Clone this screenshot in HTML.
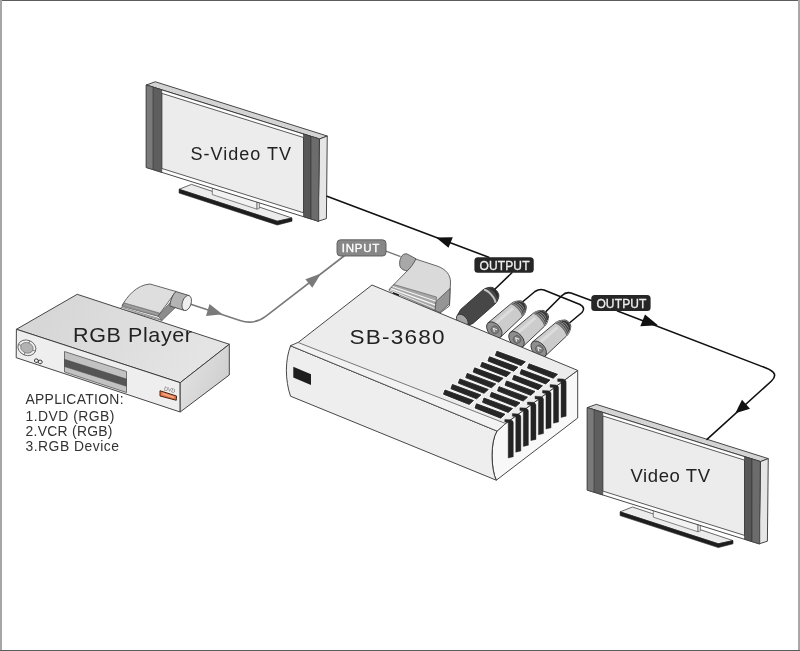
<!DOCTYPE html>
<html><head><meta charset="utf-8">
<style>
html,body{margin:0;padding:0;background:#fff;}
svg{display:block;font-family:"Liberation Sans", sans-serif;will-change:transform;}
</style></head>
<body>
<svg width="800" height="651" viewBox="0 0 800 651">
<rect x="0" y="0" width="800" height="651" fill="#fff"/>
<g>
<polygon points="179.10,189.25 191.50,184.40 292.00,218.00 277.30,221.20" fill="#ececec" stroke="#444" stroke-width="0.8"/>
<polygon points="179.10,189.25 277.30,221.20 292.00,218.00 292.00,221.20 277.30,225.00 179.10,193.00" fill="#1e1e1e" stroke="#1e1e1e" stroke-width="0.6"/>
<polygon points="212.30,186.00 212.30,194.60 257.00,209.20 257.00,200.00" fill="#f2f2f2" stroke="#555" stroke-width="0.7"/>
<polygon points="257.00,202.30 259.50,201.30 259.50,208.30 257.00,209.20" fill="#dcdcdc" stroke="#555" stroke-width="0.6"/>
<polygon points="146.25,85.00 155.25,81.75 327.25,136.00 319.50,139.00" fill="#d4d4d4" stroke="#333" stroke-width="0.9" stroke-linejoin="round"/>
<polygon points="319.50,139.00 327.25,136.00 326.40,218.60 318.10,221.25" fill="#e6e6e6" stroke="#333" stroke-width="0.9"/>
<polygon points="146.25,85.00 319.50,139.00 318.10,221.25 146.25,167.50" fill="#ffffff" stroke="#333" stroke-width="0.9"/>
<polygon points="161.75,93.33 303.50,137.51 303.50,212.78 161.75,168.45" fill="#ececec" stroke="#333" stroke-width="0.8"/>
<polygon points="146.25,85.00 153.25,87.18 153.25,169.69 146.25,167.50" fill="#7a7a7a" stroke="#333" stroke-width="0.6"/>
<polygon points="153.25,87.18 161.75,89.83 161.75,172.35 153.25,169.69" fill="#5e5e5e" stroke="#333" stroke-width="0.6"/>
<polygon points="303.50,134.01 311.00,136.35 311.00,219.03 303.50,216.68" fill="#575757" stroke="#333" stroke-width="0.6"/>
<polygon points="311.00,136.35 318.80,138.78 318.80,221.47 311.00,219.03" fill="#6c6c6c" stroke="#333" stroke-width="0.6"/>
</g>
<g transform="translate(441,322.6)">
<polygon points="179.10,189.25 191.50,184.40 292.00,218.00 277.30,221.20" fill="#ececec" stroke="#444" stroke-width="0.8"/>
<polygon points="179.10,189.25 277.30,221.20 292.00,218.00 292.00,221.20 277.30,225.00 179.10,193.00" fill="#1e1e1e" stroke="#1e1e1e" stroke-width="0.6"/>
<polygon points="212.30,186.00 212.30,194.60 257.00,209.20 257.00,200.00" fill="#f2f2f2" stroke="#555" stroke-width="0.7"/>
<polygon points="257.00,202.30 259.50,201.30 259.50,208.30 257.00,209.20" fill="#dcdcdc" stroke="#555" stroke-width="0.6"/>
<polygon points="146.25,85.00 155.25,81.75 327.25,136.00 319.50,139.00" fill="#d4d4d4" stroke="#333" stroke-width="0.9" stroke-linejoin="round"/>
<polygon points="319.50,139.00 327.25,136.00 326.40,218.60 318.10,221.25" fill="#e6e6e6" stroke="#333" stroke-width="0.9"/>
<polygon points="146.25,85.00 319.50,139.00 318.10,221.25 146.25,167.50" fill="#ffffff" stroke="#333" stroke-width="0.9"/>
<polygon points="161.75,93.33 303.50,137.51 303.50,212.78 161.75,168.45" fill="#ececec" stroke="#333" stroke-width="0.8"/>
<polygon points="146.25,85.00 153.25,87.18 153.25,169.69 146.25,167.50" fill="#7a7a7a" stroke="#333" stroke-width="0.6"/>
<polygon points="153.25,87.18 161.75,89.83 161.75,172.35 153.25,169.69" fill="#5e5e5e" stroke="#333" stroke-width="0.6"/>
<polygon points="303.50,134.01 311.00,136.35 311.00,219.03 303.50,216.68" fill="#575757" stroke="#333" stroke-width="0.6"/>
<polygon points="311.00,136.35 318.80,138.78 318.80,221.47 311.00,219.03" fill="#6c6c6c" stroke="#333" stroke-width="0.6"/>
</g>

<g fill="none" stroke-linecap="round" stroke-linejoin="round">
<path d="M327,196.25 L488.75,257.25" stroke="#111" stroke-width="1.6"/>
<path d="M511.9,272.75 L494.5,289.5" stroke="#111" stroke-width="1.6"/>
<path d="M187,303 L240,320.5 Q254.3,325.2 266,316.1 L344,256" stroke="#7a7a7a" stroke-width="1.6"/>
<path d="M386,251.2 L400,256.4" stroke="#7a7a7a" stroke-width="1.4"/>
<path d="M523,301.5 L535,291.5 Q539.5,288.5 544,290 L580,304.5 Q586,308 582,312.5 L570,322.5" stroke="#111" stroke-width="1.6"/>
<path d="M546,311.5 L562,295.5 Q566,291.5 571,293 L591.25,300.5" stroke="#111" stroke-width="1.6"/>
<path d="M617.5,311 L766,368 Q779.8,373.3 771.5,381 L707,439.4" stroke="#111" stroke-width="1.6"/>
</g>
<polygon points="436,237.5 452.8,237.2 448.5,247.8" fill="#111"/>
<polygon points="658,325.3 645,314.6 640.3,326.3" fill="#111"/>
<polygon points="735.3,413.3 742,399.8 750,408.8" fill="#111"/>
<polygon points="222.5,314.2 209.5,304 206,316" fill="#7a7a7a"/>
<polygon points="321,273.6 305.4,279.2 312.3,287.8" fill="#7a7a7a"/>

<defs><linearGradient id="ptop" gradientUnits="userSpaceOnUse" x1="60" y1="300" x2="180" y2="385"><stop offset="0" stop-color="#d7d7d7"/><stop offset="1" stop-color="#e4e4e4"/></linearGradient><linearGradient id="pside" gradientUnits="userSpaceOnUse" x1="185" y1="370" x2="229" y2="390"><stop offset="0" stop-color="#e0e0e0"/><stop offset="1" stop-color="#cdcdcd"/></linearGradient></defs>
<polygon points="77.20,294.30 16.40,329.30 180.20,382.70 229.30,344.25" fill="url(#ptop)" stroke="#333" stroke-width="0.9" stroke-linejoin="round"/>
<polygon points="16.40,329.30 180.20,382.70 180.20,412.00 16.20,357.70" fill="#eeeeee" stroke="#333" stroke-width="0.9"/>
<polygon points="180.20,382.70 229.30,344.25 229.30,375.00 180.20,412.00" fill="url(#pside)" stroke="#333" stroke-width="0.9"/>
<g transform="translate(26.9,347.8) rotate(22)">
<ellipse cx="0" cy="0" rx="9.2" ry="7.6" fill="#f2f2f2" stroke="#555" stroke-width="0.8"/>
<ellipse cx="0" cy="0" rx="6.4" ry="5.2" fill="#b2b2b2" stroke="#666" stroke-width="0.6"/>
<path d="M0,-7.6 L0,-5.2 M0,7.6 L0,5.2 M-9.2,0 L-6.4,0 M9.2,0 L6.4,0" stroke="#555" stroke-width="0.7"/>
</g>
<g transform="translate(38.3,361.3) rotate(18)" fill="none" stroke="#333" stroke-width="0.9"><ellipse cx="-2" cy="0" rx="2" ry="1.8"/><ellipse cx="2" cy="0" rx="2" ry="1.8"/></g>
<polygon points="64.50,351.50 126.50,371.50 126.50,392.50 64.50,372.00" fill="#c2c2c2" stroke="#555" stroke-width="0.8"/>
<polygon points="64.50,359.30 126.50,379.00 126.50,386.30 64.50,366.60" fill="#555555" stroke="#444" stroke-width="0.5"/>
<text x="163.8" y="390.2" font-size="5.6" fill="#6a6a6a" font-family='"Liberation Sans", sans-serif' transform="rotate(14 163.8 390.2)" textLength="11.2" lengthAdjust="spacingAndGlyphs">DVD</text>
<polygon points="160.00,390.75 176.50,396.00 176.25,400.25 160.00,396.00" fill="#e4744a" stroke="#4a2410" stroke-width="1"/>
<polygon points="162.50,392.80 174.00,396.60 174.00,398.20 162.50,394.60" fill="#f4a888"/>
<path d="M122,305.5 C127,297 136,285 150,284 L176,291.5 L158,316 Z" fill="#dedede" stroke="#444" stroke-width="0.8" stroke-linejoin="round"/>
<polygon points="124.00,302.80 159.50,313.00 158.50,316.50 122.00,306.50" fill="#909090" stroke="#555" stroke-width="0.5"/>
<line x1="124.5" y1="304.6" x2="158.5" y2="314.6" stroke="#b8b8b8" stroke-width="0.5"/>
<polygon points="121.00,307.20 158.00,318.30 162.00,320.50 121.50,308.80" fill="#f6f6f6" stroke="#444" stroke-width="0.6"/>
<polygon points="158.00,316.00 171.50,301.00 176.50,306.50 162.00,320.50" fill="#8c8c8c" stroke="#444" stroke-width="0.6"/>
<g transform="translate(186.7,303) rotate(17)">
<path d="M0,-7.8 L-13.5,-7.8 C-16,-5 -16.5,4 -15,7.8 L0,7.8 Z" fill="#b4b4b4" stroke="#444" stroke-width="0.8"/>
<ellipse cx="0" cy="0" rx="4.4" ry="7.8" fill="#eeeeee" stroke="#444" stroke-width="0.8"/>
</g>
<path d="M389,289.5 L408.5,269.5 L414,258.5 L437,266 C446,269 450.5,275 450.5,282 L449.5,306 L440,313 L436,302 Z" fill="#dadada" stroke="#444" stroke-width="0.8" stroke-linejoin="round"/>
<polygon points="394.00,284.50 436.50,297.00 435.00,310.50 389.00,290.50" fill="#a6a6a6" stroke="#555" stroke-width="0.6"/>
<line x1="392.6" y1="286.6" x2="436" y2="301.3" stroke="#f2f2f2" stroke-width="1.1"/>
<line x1="390.8" y1="288.6" x2="435.6" y2="305.2" stroke="#f6f6f6" stroke-width="1.3"/>
<line x1="389.8" y1="290" x2="435.2" y2="308.6" stroke="#e8e8e8" stroke-width="1.0"/>
<polygon points="436.00,301.50 450.00,288.50 449.50,303.50 440.00,312.50 435.00,310.50" fill="#959595" stroke="#444" stroke-width="0.7"/>
<polygon points="393.00,292.20 399.00,294.40 399.00,296.20 393.00,294.00" fill="#111"/>
<path d="M401.2,257 C402.3,254.6 404.6,253.4 407,253.9 L416,258.8 C414,263 410.5,268 407.3,270.8 C404.5,270.6 401.5,269.5 400.2,267 C399.2,264.5 399.4,259.8 401.2,257 Z" fill="#a8a8a8" stroke="#444" stroke-width="0.8"/>
<g transform="translate(462.30,320.40) rotate(-41.3)">
<path d="M0,-7.2 L6,-9.3 L35,-9.3 C39.4,-9.3 42,-6.8999999999999995 43,-6.3 C46.2,-4.409999999999999 46.2,4.409999999999999 43,6.3 C42,6.8999999999999995 39.4,9.3 35,9.3 L6,9.3 L0,7.2 Z" fill="#474747" stroke="#2a2a2a" stroke-width="0.8"/>
<path d="M36.5,-8.649000000000001 C39.5,-5.115000000000001 39.5,5.115000000000001 36.5,8.649000000000001" fill="none" stroke="#c4c4c4" stroke-width="2.0"/>
<path d="M41.2,-6.3 C46.2,-4.409999999999999 46.2,4.409999999999999 41.2,6.3 C43.2,2.52 43.2,-2.52 41.2,-6.3 Z" fill="#2a2a2a"/>
<ellipse cx="0" cy="0" rx="4.61" ry="7.2" fill="#a4a4a4" stroke="#2a2a2a" stroke-width="0.8"/>
</g>
<g transform="translate(494.30,330.00) rotate(-41.6)">
<path d="M0,-9.5 L29.4,-8.6 L29.5,-8.6 C34.175,-8.6 37.0,-5.8 38.0,-5.2 C41.2,-3.6399999999999997 41.2,3.6399999999999997 38.0,5.2 C37.0,5.8 34.175,8.6 29.5,8.6 L29.4,8.6 L0,9.5 Z" fill="#cccccc" stroke="#2a2a2a" stroke-width="0.8"/>
<path d="M3,-4.275 L28.5,-3.87" stroke="#e2e2e2" stroke-width="3" fill="none" opacity="0.7"/>
<path d="M29.5,-8.6 C34.175,-8.6 37.0,-5.8 38.0,-5.2 L38.0,5.2 C37.0,5.8 34.175,8.6 29.5,8.6 C32.5,4.3 32.5,-4.3 29.5,-8.6 Z" fill="#9a9a9a"/>
<path d="M30.1,-8.36 C32.7,-4.598 32.7,4.598 30.1,8.36" fill="none" stroke="#666" stroke-width="1.0"/>
<path d="M32.1,-7.56 C34.7,-4.158 34.7,4.158 32.1,7.56" fill="none" stroke="#4a4a4a" stroke-width="1.1"/>
<path d="M34.1,-6.76 C36.7,-3.718 36.7,3.718 34.1,6.76" fill="none" stroke="#3a3a3a" stroke-width="1.2"/>
<path d="M36.1,-5.960000000000001 C38.7,-3.278000000000001 38.7,3.278000000000001 36.1,5.960000000000001" fill="none" stroke="#2e2e2e" stroke-width="1.3"/>
<path d="M36.5,-5.2 C41.2,-3.6399999999999997 41.2,3.6399999999999997 36.5,5.2 C38.5,2.08 38.5,-2.08 36.5,-5.2 Z" fill="#3a3a3a"/>
<ellipse cx="0" cy="0" rx="6.08" ry="9.5" fill="#8e8e8e" stroke="#2a2a2a" stroke-width="0.8"/>
<ellipse cx="0.5" cy="0.3" rx="3.77" ry="3.99" fill="#7e7e7e" stroke="#444" stroke-width="0.5"/>
<path d="M-1.2,1.5 L0.5,-1.8 L2.2,1.5" fill="none" stroke="#e6e6e6" stroke-width="1.1"/>
</g>
<g transform="translate(516.50,339.60) rotate(-41.6)">
<path d="M0,-9.5 L29.4,-8.6 L29.5,-8.6 C34.175,-8.6 37.0,-5.8 38.0,-5.2 C41.2,-3.6399999999999997 41.2,3.6399999999999997 38.0,5.2 C37.0,5.8 34.175,8.6 29.5,8.6 L29.4,8.6 L0,9.5 Z" fill="#cccccc" stroke="#2a2a2a" stroke-width="0.8"/>
<path d="M3,-4.275 L28.5,-3.87" stroke="#e2e2e2" stroke-width="3" fill="none" opacity="0.7"/>
<path d="M29.5,-8.6 C34.175,-8.6 37.0,-5.8 38.0,-5.2 L38.0,5.2 C37.0,5.8 34.175,8.6 29.5,8.6 C32.5,4.3 32.5,-4.3 29.5,-8.6 Z" fill="#9a9a9a"/>
<path d="M30.1,-8.36 C32.7,-4.598 32.7,4.598 30.1,8.36" fill="none" stroke="#666" stroke-width="1.0"/>
<path d="M32.1,-7.56 C34.7,-4.158 34.7,4.158 32.1,7.56" fill="none" stroke="#4a4a4a" stroke-width="1.1"/>
<path d="M34.1,-6.76 C36.7,-3.718 36.7,3.718 34.1,6.76" fill="none" stroke="#3a3a3a" stroke-width="1.2"/>
<path d="M36.1,-5.960000000000001 C38.7,-3.278000000000001 38.7,3.278000000000001 36.1,5.960000000000001" fill="none" stroke="#2e2e2e" stroke-width="1.3"/>
<path d="M36.5,-5.2 C41.2,-3.6399999999999997 41.2,3.6399999999999997 36.5,5.2 C38.5,2.08 38.5,-2.08 36.5,-5.2 Z" fill="#3a3a3a"/>
<ellipse cx="0" cy="0" rx="6.08" ry="9.5" fill="#8e8e8e" stroke="#2a2a2a" stroke-width="0.8"/>
<ellipse cx="0.5" cy="0.3" rx="3.77" ry="3.99" fill="#7e7e7e" stroke="#444" stroke-width="0.5"/>
<path d="M-1.2,1.5 L0.5,-1.8 L2.2,1.5" fill="none" stroke="#e6e6e6" stroke-width="1.1"/>
</g>
<g transform="translate(538.70,349.20) rotate(-41.6)">
<path d="M0,-9.5 L29.4,-8.6 L29.5,-8.6 C34.175,-8.6 37.0,-5.8 38.0,-5.2 C41.2,-3.6399999999999997 41.2,3.6399999999999997 38.0,5.2 C37.0,5.8 34.175,8.6 29.5,8.6 L29.4,8.6 L0,9.5 Z" fill="#cccccc" stroke="#2a2a2a" stroke-width="0.8"/>
<path d="M3,-4.275 L28.5,-3.87" stroke="#e2e2e2" stroke-width="3" fill="none" opacity="0.7"/>
<path d="M29.5,-8.6 C34.175,-8.6 37.0,-5.8 38.0,-5.2 L38.0,5.2 C37.0,5.8 34.175,8.6 29.5,8.6 C32.5,4.3 32.5,-4.3 29.5,-8.6 Z" fill="#9a9a9a"/>
<path d="M30.1,-8.36 C32.7,-4.598 32.7,4.598 30.1,8.36" fill="none" stroke="#666" stroke-width="1.0"/>
<path d="M32.1,-7.56 C34.7,-4.158 34.7,4.158 32.1,7.56" fill="none" stroke="#4a4a4a" stroke-width="1.1"/>
<path d="M34.1,-6.76 C36.7,-3.718 36.7,3.718 34.1,6.76" fill="none" stroke="#3a3a3a" stroke-width="1.2"/>
<path d="M36.1,-5.960000000000001 C38.7,-3.278000000000001 38.7,3.278000000000001 36.1,5.960000000000001" fill="none" stroke="#2e2e2e" stroke-width="1.3"/>
<path d="M36.5,-5.2 C41.2,-3.6399999999999997 41.2,3.6399999999999997 36.5,5.2 C38.5,2.08 38.5,-2.08 36.5,-5.2 Z" fill="#3a3a3a"/>
<ellipse cx="0" cy="0" rx="6.08" ry="9.5" fill="#8e8e8e" stroke="#2a2a2a" stroke-width="0.8"/>
<ellipse cx="0.5" cy="0.3" rx="3.77" ry="3.99" fill="#7e7e7e" stroke="#444" stroke-width="0.5"/>
<path d="M-1.2,1.5 L0.5,-1.8 L2.2,1.5" fill="none" stroke="#e6e6e6" stroke-width="1.1"/>
</g>
<path d="M497,431 L505.6,423.5 L577.7,370.4 L577.7,418 L496.3,480.2 C491,470 490,442 497,431 Z" fill="#f8f8f8" stroke="#333" stroke-width="0.9" stroke-linejoin="round"/>
<path d="M290.6,345.75 L497,431 C490,442 491,470 496.3,480.2 L290.5,396.2 C285,380 285,360 290.6,345.75 Z" fill="#eeeeee" stroke="#333" stroke-width="0.9" stroke-linejoin="round"/>
<polygon points="372.00,285.00 577.70,370.40 505.60,423.50 497.00,431.00 290.60,345.75 298.10,342.50" fill="#ececec" stroke="#333" stroke-width="0.9" stroke-linejoin="round"/>
<polygon points="298.10,342.50 505.60,423.50 497.00,431.00 290.60,345.75" fill="#f2f2f2" stroke="#444" stroke-width="0.7"/>
<polygon points="293.30,366.70 311.00,374.25 311.00,385.00 293.30,377.50" fill="#1e1e1e"/>
<polygon points="445.00,390.00 473.50,400.50 469.20,404.40 443.50,394.20" fill="#f8f8f8" stroke="#f8f8f8" stroke-width="2.6" stroke-linejoin="round"/>
<polygon points="445.00,390.00 473.50,400.50 469.20,404.40 443.50,394.20" fill="#262626" stroke="#262626" stroke-width="0.9" stroke-linejoin="round"/>
<polygon points="452.41,384.46 480.91,394.96 476.61,398.86 450.91,388.66" fill="#f8f8f8" stroke="#f8f8f8" stroke-width="2.6" stroke-linejoin="round"/>
<polygon points="452.41,384.46 480.91,394.96 476.61,398.86 450.91,388.66" fill="#262626" stroke="#262626" stroke-width="0.9" stroke-linejoin="round"/>
<polygon points="459.82,378.92 488.32,389.42 484.02,393.32 458.32,383.12" fill="#f8f8f8" stroke="#f8f8f8" stroke-width="2.6" stroke-linejoin="round"/>
<polygon points="459.82,378.92 488.32,389.42 484.02,393.32 458.32,383.12" fill="#262626" stroke="#262626" stroke-width="0.9" stroke-linejoin="round"/>
<polygon points="467.23,373.38 495.73,383.88 491.43,387.78 465.73,377.58" fill="#f8f8f8" stroke="#f8f8f8" stroke-width="2.6" stroke-linejoin="round"/>
<polygon points="467.23,373.38 495.73,383.88 491.43,387.78 465.73,377.58" fill="#262626" stroke="#262626" stroke-width="0.9" stroke-linejoin="round"/>
<polygon points="474.64,367.84 503.14,378.34 498.84,382.24 473.14,372.04" fill="#f8f8f8" stroke="#f8f8f8" stroke-width="2.6" stroke-linejoin="round"/>
<polygon points="474.64,367.84 503.14,378.34 498.84,382.24 473.14,372.04" fill="#262626" stroke="#262626" stroke-width="0.9" stroke-linejoin="round"/>
<polygon points="482.05,362.30 510.55,372.80 506.25,376.70 480.55,366.50" fill="#f8f8f8" stroke="#f8f8f8" stroke-width="2.6" stroke-linejoin="round"/>
<polygon points="482.05,362.30 510.55,372.80 506.25,376.70 480.55,366.50" fill="#262626" stroke="#262626" stroke-width="0.9" stroke-linejoin="round"/>
<polygon points="489.46,356.76 517.96,367.26 513.66,371.16 487.96,360.96" fill="#f8f8f8" stroke="#f8f8f8" stroke-width="2.6" stroke-linejoin="round"/>
<polygon points="489.46,356.76 517.96,367.26 513.66,371.16 487.96,360.96" fill="#262626" stroke="#262626" stroke-width="0.9" stroke-linejoin="round"/>
<polygon points="496.87,351.22 525.37,361.72 521.07,365.62 495.37,355.42" fill="#f8f8f8" stroke="#f8f8f8" stroke-width="2.6" stroke-linejoin="round"/>
<polygon points="496.87,351.22 525.37,361.72 521.07,365.62 495.37,355.42" fill="#262626" stroke="#262626" stroke-width="0.9" stroke-linejoin="round"/>
<polygon points="476.50,403.75 505.00,414.25 500.70,418.15 475.00,407.95" fill="#f8f8f8" stroke="#f8f8f8" stroke-width="2.6" stroke-linejoin="round"/>
<polygon points="476.50,403.75 505.00,414.25 500.70,418.15 475.00,407.95" fill="#262626" stroke="#262626" stroke-width="0.9" stroke-linejoin="round"/>
<polygon points="484.00,398.05 512.50,408.55 508.20,412.45 482.50,402.25" fill="#f8f8f8" stroke="#f8f8f8" stroke-width="2.6" stroke-linejoin="round"/>
<polygon points="484.00,398.05 512.50,408.55 508.20,412.45 482.50,402.25" fill="#262626" stroke="#262626" stroke-width="0.9" stroke-linejoin="round"/>
<polygon points="491.50,392.35 520.00,402.85 515.70,406.75 490.00,396.55" fill="#f8f8f8" stroke="#f8f8f8" stroke-width="2.6" stroke-linejoin="round"/>
<polygon points="491.50,392.35 520.00,402.85 515.70,406.75 490.00,396.55" fill="#262626" stroke="#262626" stroke-width="0.9" stroke-linejoin="round"/>
<polygon points="499.00,386.65 527.50,397.15 523.20,401.05 497.50,390.85" fill="#f8f8f8" stroke="#f8f8f8" stroke-width="2.6" stroke-linejoin="round"/>
<polygon points="499.00,386.65 527.50,397.15 523.20,401.05 497.50,390.85" fill="#262626" stroke="#262626" stroke-width="0.9" stroke-linejoin="round"/>
<polygon points="506.50,380.95 535.00,391.45 530.70,395.35 505.00,385.15" fill="#f8f8f8" stroke="#f8f8f8" stroke-width="2.6" stroke-linejoin="round"/>
<polygon points="506.50,380.95 535.00,391.45 530.70,395.35 505.00,385.15" fill="#262626" stroke="#262626" stroke-width="0.9" stroke-linejoin="round"/>
<polygon points="514.00,375.25 542.50,385.75 538.20,389.65 512.50,379.45" fill="#f8f8f8" stroke="#f8f8f8" stroke-width="2.6" stroke-linejoin="round"/>
<polygon points="514.00,375.25 542.50,385.75 538.20,389.65 512.50,379.45" fill="#262626" stroke="#262626" stroke-width="0.9" stroke-linejoin="round"/>
<polygon points="521.50,369.55 550.00,380.05 545.70,383.95 520.00,373.75" fill="#f8f8f8" stroke="#f8f8f8" stroke-width="2.6" stroke-linejoin="round"/>
<polygon points="521.50,369.55 550.00,380.05 545.70,383.95 520.00,373.75" fill="#262626" stroke="#262626" stroke-width="0.9" stroke-linejoin="round"/>
<polygon points="529.00,363.85 557.50,374.35 553.20,378.25 527.50,368.05" fill="#f8f8f8" stroke="#f8f8f8" stroke-width="2.6" stroke-linejoin="round"/>
<polygon points="529.00,363.85 557.50,374.35 553.20,378.25 527.50,368.05" fill="#262626" stroke="#262626" stroke-width="0.9" stroke-linejoin="round"/>
<polygon points="504.80,419.40 510.50,419.70 512.60,420.80 513.30,422.40 513.30,456.80 508.20,458.00 508.20,422.40 504.80,422.00" fill="#232323" stroke="#232323" stroke-width="0.4" stroke-linejoin="round"/>
<polygon points="512.35,413.60 518.05,413.90 520.15,415.00 520.85,416.60 520.85,451.00 515.75,452.20 515.75,416.60 512.35,416.20" fill="#232323" stroke="#232323" stroke-width="0.4" stroke-linejoin="round"/>
<polygon points="519.90,407.80 525.60,408.10 527.70,409.20 528.40,410.80 528.40,445.20 523.30,446.40 523.30,410.80 519.90,410.40" fill="#232323" stroke="#232323" stroke-width="0.4" stroke-linejoin="round"/>
<polygon points="527.45,402.00 533.15,402.30 535.25,403.40 535.95,405.00 535.95,439.40 530.85,440.60 530.85,405.00 527.45,404.60" fill="#232323" stroke="#232323" stroke-width="0.4" stroke-linejoin="round"/>
<polygon points="535.00,396.20 540.70,396.50 542.80,397.60 543.50,399.20 543.50,433.60 538.40,434.80 538.40,399.20 535.00,398.80" fill="#232323" stroke="#232323" stroke-width="0.4" stroke-linejoin="round"/>
<polygon points="542.55,390.40 548.25,390.70 550.35,391.80 551.05,393.40 551.05,427.80 545.95,429.00 545.95,393.40 542.55,393.00" fill="#232323" stroke="#232323" stroke-width="0.4" stroke-linejoin="round"/>
<polygon points="550.10,384.60 555.80,384.90 557.90,386.00 558.60,387.60 558.60,422.00 553.50,423.20 553.50,387.60 550.10,387.20" fill="#232323" stroke="#232323" stroke-width="0.4" stroke-linejoin="round"/>
<polygon points="557.65,378.80 563.35,379.10 565.45,380.20 566.15,381.80 566.15,416.20 561.05,417.40 561.05,381.80 557.65,381.40" fill="#232323" stroke="#232323" stroke-width="0.4" stroke-linejoin="round"/>

<rect x="337" y="239.8" width="49" height="16.2" rx="3.5" fill="#878787" stroke="#5a5a5a" stroke-width="0.9"/>
<text x="341.8" y="252" font-size="11.5" fill="#fff" text-anchor="start" textLength="37.5" lengthAdjust="spacing" stroke="#fff" stroke-width="0.35" >INPUT</text>
<rect x="474.4" y="257.25" width="59.35" height="15.5" rx="3.5" fill="#262626"/>
<text x="479.5" y="269.75" font-size="12" fill="#eee" text-anchor="start" textLength="50" lengthAdjust="spacing" stroke="#eee" stroke-width="0.3" >OUTPUT</text>
<rect x="591.25" y="295" width="59.35" height="16" rx="3.5" fill="#262626"/>
<text x="596.4" y="308.1" font-size="12" fill="#eee" text-anchor="start" textLength="50" lengthAdjust="spacing" stroke="#eee" stroke-width="0.3" >OUTPUT</text>


<text x="190.5" y="159.75" font-size="18" fill="#222" text-anchor="start" textLength="100.5" lengthAdjust="spacing" >S-Video TV</text>
<text x="630.5" y="481.9" font-size="18.5" fill="#222" text-anchor="start" textLength="79.5" lengthAdjust="spacing" >Video TV</text>
<text transform="translate(73,341.5) scale(1.05,1)" x="0" y="0" font-size="20.5" fill="#222" text-anchor="start" textLength="113.33" lengthAdjust="spacing" >RGB Player</text>
<text transform="translate(349.5,344.3) scale(1.1,1)" x="0" y="0" font-size="20.5" fill="#222" text-anchor="start" textLength="86.36" lengthAdjust="spacing" >SB-3680</text>
<g fill="#333">
<text x="25.5" y="403.6" font-size="13.9" fill="#333" text-anchor="start" textLength="98" lengthAdjust="spacing" >APPLICATION:</text>
<text x="25.5" y="420.5" font-size="13.9" fill="#333" text-anchor="start" textLength="89" lengthAdjust="spacing" >1.DVD (RGB)</text>
<text x="25.5" y="435.7" font-size="13.9" fill="#333" text-anchor="start" textLength="87" lengthAdjust="spacing" >2.VCR (RGB)</text>
<text x="25.5" y="451.1" font-size="13.9" fill="#333" text-anchor="start" textLength="93.5" lengthAdjust="spacing" >3.RGB Device</text>
</g>

<rect x="0" y="0" width="800" height="1" fill="#5c5c5c"/>
<rect x="0" y="0" width="2" height="651" fill="#a6a6a6"/>
<rect x="798" y="0" width="2" height="651" fill="#a8a8a8"/>
<rect x="0" y="650" width="800" height="1" fill="#5c5c5c"/>
</svg>
</body></html>
